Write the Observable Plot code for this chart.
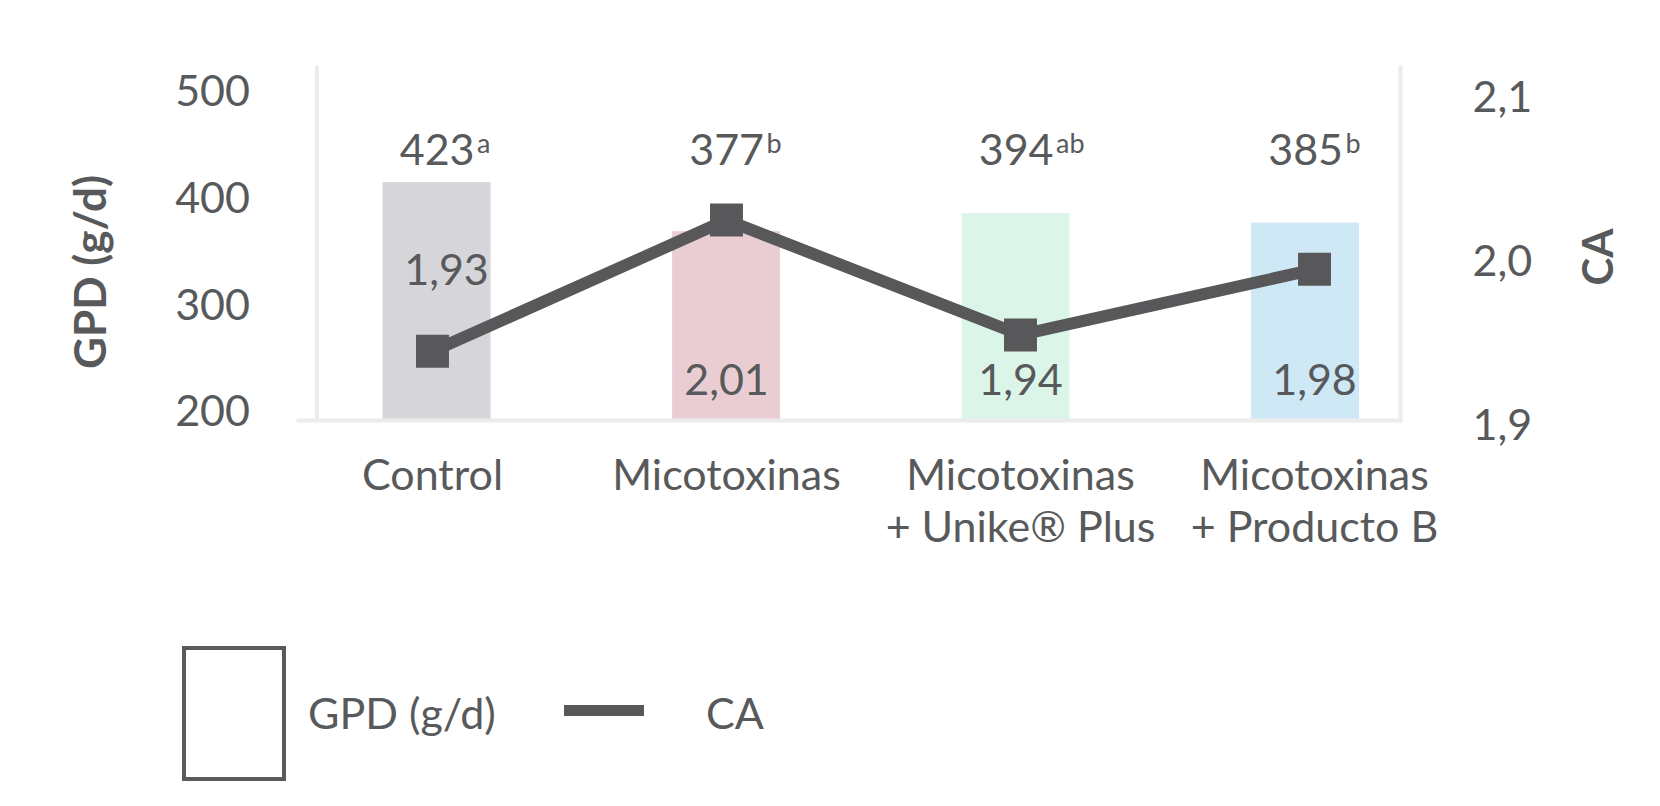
<!DOCTYPE html>
<html>
<head>
<meta charset="utf-8">
<script src="https://cdn.jsdelivr.net/npm/d3@7"></script>
<script src="https://cdn.jsdelivr.net/npm/@observablehq/plot@0.6"></script>
<style>
  html, body { margin: 0; padding: 0; background: #fff; }
  #wrap { position: relative; width: 1660px; height: 806px; font-family: Lato, sans-serif; color: #58595b; overflow: hidden; }
  .layer { position: absolute; left: 0; top: 0; }
  .legend-box { position: absolute; left: 182px; top: 646px; width: 96px; height: 127px; border: 4px solid #5a5a5c; }
  .legend-text { position: absolute; font-size: 43px; font-weight: 400; line-height: 1; transform: translateY(-50%); white-space: nowrap; }
  .legend-line { position: absolute; left: 564px; top: 705px; width: 80px; height: 11px; background: #58585a; }
</style>
</head>
<body>
<div id="wrap">
  <div id="p1" class="layer"></div>
  <div id="p2" class="layer"></div>
  <div class="legend-box"></div>
  <div class="legend-text" style="left:308px; top:712px;">GPD (g/d)</div>
  <div class="legend-line"></div>
  <div class="legend-text" style="left:706px; top:712px;">CA</div>
</div>
<script>
// ---- data ----
const categories = ["Control", "Micotoxinas", "Micotoxinas\n+ Unike® Plus", "Micotoxinas\n+ Producto B"];
const gpd = [423, 377, 394, 385];
const gpdLetters = ["a", "b", "ab", "b"];
const ca = [1.93, 2.01, 1.94, 1.98];
const gpdTicks = [200, 300, 400, 500];
const caTicks = [1.9, 2.0, 2.1];

const rows = categories.map((c, i) => ({cat: c, gpd: gpd[i], letter: gpdLetters[i], ca: ca[i]}));

// ---- styling / layout ----
const barColors = ["#d5d5da", "#e9cdd3", "#dcf5e9", "#cfe8f6"];
const textColor = "#58595b";
const lineColor = "#58585a";
const gridColor = "#ececec";
const W = 1660, H = 590;
const margins = {marginLeft: 316.5, marginRight: 260, marginTop: 67, marginBottom: 170};
const baseStyle = {fontFamily: "Lato, sans-serif", color: textColor, background: "transparent", overflow: "visible"};
const comma = (v, n) => v.toFixed(n).replace(".", ",");
const caMin = d3.min(ca);
const FS = 43;

// ---- layer 1: GPD bars + left axis ----
const p1 = Plot.plot({
  width: W, height: H, ...margins,
  style: baseStyle,
  x: {type: "band", domain: categories, range: [237.85, 1503.85], paddingInner: 0.627, paddingOuter: 0.5, align: 0.5, round: false, axis: null},
  y: {domain: [200, 500], range: [420, 100]},
  color: {domain: categories, range: barColors},
  marks: [
    Plot.barY(rows, {x: "cat", y1: 200, y2: "gpd", fill: "cat"}),
    Plot.frame({anchor: "left", stroke: gridColor, strokeWidth: 4}),
    Plot.frame({anchor: "right", stroke: gridColor, strokeWidth: 4}),
    Plot.ruleY([200], {stroke: gridColor, strokeWidth: 4, insetLeft: -20, insetRight: -2}),
    Plot.axisY(gpdTicks, {anchor: "left", label: null, tickSize: 0, tickPadding: 67, fontSize: FS, dy: -8, fill: textColor}),
    Plot.text(rows, {x: "cat", text: d => String(d.gpd), frameAnchor: "top", lineAnchor: "middle", dy: 83.5, fontSize: FS, fill: textColor}),
    Plot.text(rows, {x: "cat", text: "letter", frameAnchor: "top", lineAnchor: "middle", dy: 77, dx: 40, textAnchor: "start", fontSize: 27, fill: textColor}),
    Plot.text(["GPD (g/d)"], {frameAnchor: "left", textAnchor: "middle", lineAnchor: "middle", dx: -225, dy: 28, rotate: -90, fontSize: 44, fontWeight: 700, fill: textColor})
  ]
});
document.getElementById("p1").append(p1);

// ---- layer 2: CA line + right axis + category axis ----
const p2 = Plot.plot({
  width: W, height: H, ...margins,
  style: baseStyle,
  x: {type: "point", domain: categories, range: [430.2, 1314.9], padding: 0},
  y: {domain: [1.9, 2.1], range: [400, 72]},
  marks: [
    Plot.line(rows, {x: "cat", y: "ca", stroke: lineColor, strokeWidth: 12}),
    Plot.dot(rows, {x: "cat", y: "ca", symbol: "square", r: 18.6, fill: lineColor, stroke: "none"}),
    Plot.axisX({anchor: "bottom", label: null, tickSize: 0, tickPadding: 33, fontSize: FS, lineHeight: 1.2, fill: textColor}),
    Plot.axisY(caTicks, {anchor: "right", label: null, tickSize: 0, tickPadding: 72, tickFormat: d => comma(d, 1), fontSize: FS, dy: 26, fill: textColor}),
    Plot.text(["CA"], {frameAnchor: "right", textAnchor: "middle", lineAnchor: "middle", dx: 199, dy: 13, rotate: -90, fontSize: 42, fontWeight: 700, fill: textColor}),
    // CA value labels: lowest point labelled above its marker, others near the base of the bars
    Plot.text(rows.filter(d => d.ca === caMin), {x: "cat", y: "ca", text: d => comma(d.ca, 2), lineAnchor: "middle", dy: -80, dx: 14, fontSize: FS, fill: textColor}),
    Plot.text(rows.filter(d => d.ca !== caMin), {x: "cat", text: d => comma(d.ca, 2), frameAnchor: "bottom", lineAnchor: "middle", dy: -39, fontSize: FS, fill: textColor})
  ]
});
document.getElementById("p2").append(p2);
</script>
</body>
</html>
